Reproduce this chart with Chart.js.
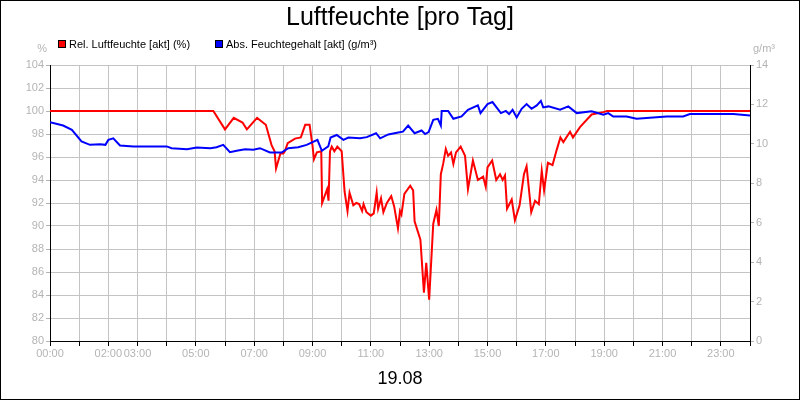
<!DOCTYPE html>
<html>
<head>
<meta charset="utf-8">
<script src="https://cdn.jsdelivr.net/npm/chart.js@4.4.0/dist/chart.umd.min.js"></script>
<style>
  html, body { margin: 0; padding: 0; background: #fff; }
  #wrap { width: 800px; height: 400px; }
</style>
</head>
<body>
<div id="wrap"><canvas id="chart" width="800" height="400"></canvas></div>
<script>
// Stunden (x) und Werte
const relHours = [0, 5.6, 6.0, 6.3, 6.6, 6.75, 7.1, 7.4, 7.6, 7.7, 7.75, 7.9, 8.0, 8.05, 8.15, 8.4, 8.6, 8.75, 8.9, 9.0, 9.05, 9.15, 9.3, 9.33, 9.5, 9.55, 9.6, 9.66, 9.75, 9.85, 10.0, 10.1, 10.2, 10.27, 10.4, 10.5, 10.6, 10.7, 10.75, 10.85, 11.0, 11.1, 11.2, 11.25, 11.35, 11.43, 11.55, 11.7, 11.8, 11.93, 12.0, 12.05, 12.15, 12.35, 12.45, 12.5, 12.7, 12.82, 12.9, 13.0, 13.14, 13.25, 13.33, 13.4, 13.48, 13.57, 13.65, 13.75, 13.83, 13.92, 14.08, 14.23, 14.33, 14.5, 14.67, 14.85, 14.94, 15.0, 15.16, 15.3, 15.43, 15.52, 15.6, 15.67, 15.83, 15.94, 16.1, 16.25, 16.34, 16.5, 16.63, 16.76, 16.86, 16.94, 17.07, 17.23, 17.37, 17.5, 17.6, 17.83, 17.93, 18.17, 18.57, 18.97, 19.1, 24];
const relValues = [100, 100, 98.4, 99.4, 99.0, 98.4, 99.4, 98.8, 97.0, 96.5, 95.0, 96.3, 96.3, 96.5, 97.2, 97.6, 97.7, 98.8, 98.8, 97.0, 95.8, 96.4, 96.5, 92.0, 93.2, 92.2, 96.5, 96.9, 96.5, 96.9, 96.5, 93.0, 91.3, 92.9, 91.8, 92.0, 91.9, 91.3, 91.9, 91.2, 90.9, 91.1, 92.9, 91.5, 92.4, 91.2, 92.0, 92.6, 91.7, 89.8, 91.3, 91.0, 92.8, 93.5, 93.1, 90.4, 88.8, 84.2, 86.8, 83.6, 90.2, 91.4, 90.0, 94.5, 95.4, 96.7, 96.1, 96.4, 95.4, 96.4, 96.9, 96.1, 93.2, 95.7, 94.0, 94.3, 93.4, 95.1, 95.7, 94.0, 94.5, 94.0, 94.4, 91.5, 92.3, 90.5, 91.8, 94.5, 95.2, 91.2, 92.2, 91.9, 94.8, 93.1, 95.5, 95.3, 96.6, 97.7, 97.3, 98.2, 97.7, 98.6, 99.7, 99.9, 100, 100];

const absHours = [0, 0.45, 0.75, 1.08, 1.37, 1.72, 1.9, 2.0, 2.17, 2.4, 2.86, 4.0, 4.17, 4.7, 5.03, 5.5, 5.71, 5.94, 6.17, 6.4, 6.69, 6.97, 7.2, 7.54, 7.94, 8.17, 8.51, 8.8, 9.17, 9.32, 9.54, 9.62, 9.83, 10.06, 10.23, 10.63, 10.86, 11.18, 11.32, 11.6, 11.94, 12.1, 12.28, 12.5, 12.74, 12.86, 12.98, 13.14, 13.3, 13.4, 13.43, 13.65, 13.83, 14.11, 14.33, 14.67, 14.76, 15.0, 15.17, 15.46, 15.63, 15.74, 15.86, 16.0, 16.17, 16.34, 16.51, 16.69, 16.83, 16.91, 17.09, 17.49, 17.77, 18.06, 18.57, 18.97, 19.14, 19.31, 19.77, 20.11, 21.14, 21.71, 21.94, 22.3, 23.43, 24];
const absValues = [11.1, 10.93, 10.71, 10.12, 9.95, 9.98, 9.95, 10.2, 10.28, 9.92, 9.87, 9.87, 9.78, 9.73, 9.82, 9.78, 9.83, 9.95, 9.58, 9.65, 9.73, 9.7, 9.78, 9.56, 9.56, 9.78, 9.83, 9.95, 10.2, 9.65, 9.87, 10.32, 10.45, 10.2, 10.32, 10.28, 10.34, 10.54, 10.28, 10.48, 10.58, 10.62, 10.93, 10.54, 10.68, 10.5, 10.6, 11.22, 11.27, 10.93, 11.67, 11.67, 11.27, 11.39, 11.73, 11.95, 11.56, 12.02, 12.12, 11.56, 11.67, 11.51, 11.73, 11.34, 11.78, 12.02, 11.78, 11.95, 12.18, 11.85, 11.9, 11.73, 11.9, 11.56, 11.65, 11.48, 11.56, 11.39, 11.39, 11.27, 11.39, 11.39, 11.51, 11.51, 11.51, 11.44];

const xLabelHours = [0, 2, 3, 5, 7, 9, 11, 13, 15, 17, 19, 21, 23];
const seriesNames = ['Rel. Luftfeuchte [akt] (%)', 'Abs. Feuchtegehalt [akt] (g/m³)'];
const chartTitle = 'Luftfeuchte [pro Tag]';
const dateLabel = '19.08';

const FONT = "'Liberation Sans', Arial, sans-serif";
const tickGray = '#b4b4b4';
const gridGray = '#c4c4c4';

// Titel, Legende, Einheiten und Rahmen selbst zeichnen
const decorPlugin = {
    id: 'decor',
    afterDraw(chart) {
        const ctx = chart.ctx;
        ctx.save();
        ctx.strokeStyle = '#000';
        ctx.lineWidth = 1;
        ctx.strokeRect(0.5, 0.5, 799, 399);

        ctx.fillStyle = '#000';
        ctx.textAlign = 'center';
        ctx.textBaseline = 'middle';
        ctx.font = '25px ' + FONT;
        ctx.fillText(chartTitle, 400, 18);
        ctx.font = '18px ' + FONT;
        ctx.fillText(dateLabel, 400, 379);

        ctx.font = '11px ' + FONT;
        ctx.textAlign = 'left';
        const colors = ['#ff0000', '#0000ff'];
        const xs = [58, 215];
        for (let i = 0; i < 2; i++) {
            ctx.fillStyle = colors[i];
            ctx.fillRect(xs[i], 40, 8, 8);
            ctx.strokeStyle = '#000';
            ctx.strokeRect(xs[i] + 0.5, 40.5, 7, 7);
            ctx.fillStyle = '#000';
            ctx.fillText(seriesNames[i], xs[i] + 11, 45);
        }

        ctx.fillStyle = tickGray;
        ctx.textAlign = 'right';
        ctx.fillText('%', 47, 49);
        ctx.textAlign = 'left';
        ctx.fillText('g/m³', 753, 49);
        ctx.restore();
    }
};

const toPoints = (xs, ys) => xs.map((x, i) => ({ x: x, y: ys[i] }));

new Chart(document.getElementById('chart'), {
    type: 'line',
    data: {
        datasets: [
            {
                label: seriesNames[1],
                data: toPoints(absHours, absValues),
                yAxisID: 'y2',
                borderColor: '#0000ff',
                borderWidth: 2,
                pointRadius: 0,
                tension: 0
            },
            {
                label: seriesNames[0],
                data: toPoints(relHours, relValues),
                yAxisID: 'y',
                borderColor: '#ff0000',
                borderWidth: 2,
                pointRadius: 0,
                tension: 0
            }
        ]
    },
    options: {
        responsive: false,
        animation: false,
        layout: { padding: { top: 65, left: 0, right: 0, bottom: 0 } },
        plugins: {
            legend: { display: false },
            title: { display: false },
            tooltip: { enabled: false }
        },
        scales: {
            x: {
                type: 'linear',
                min: 0,
                max: 24,
                afterFit: s => { s.height = 59; },
                afterBuildTicks: s => {
                    s.ticks = [];
                    for (let h = 0; h <= 24; h++) s.ticks.push({ value: h });
                },
                ticks: {
                    autoSkip: false,
                    maxRotation: 0,
                    color: tickGray,
                    font: { family: FONT, size: 11 },
                    padding: 1,
                    callback: v => xLabelHours.includes(v) ? String(v).padStart(2, '0') + ':00' : ''
                },
                grid: { color: gridGray, tickLength: 5, tickColor: '#000' },
                border: { color: '#000' }
            },
            y: {
                position: 'left',
                min: 80,
                max: 104,
                afterFit: s => { s.width = 50; },
                ticks: { stepSize: 2, color: tickGray, font: { family: FONT, size: 11 }, padding: 2 },
                grid: { color: gridGray, tickLength: 4, tickColor: tickGray },
                border: { color: '#000' }
            },
            y2: {
                position: 'right',
                min: 0,
                max: 14,
                afterFit: s => { s.width = 50; },
                ticks: { stepSize: 2, color: tickGray, font: { family: FONT, size: 11 }, padding: 2 },
                grid: { drawOnChartArea: false, tickLength: 4, tickColor: tickGray },
                border: { color: '#000' }
            }
        }
    },
    plugins: [decorPlugin]
});
</script>
</body>
</html>
